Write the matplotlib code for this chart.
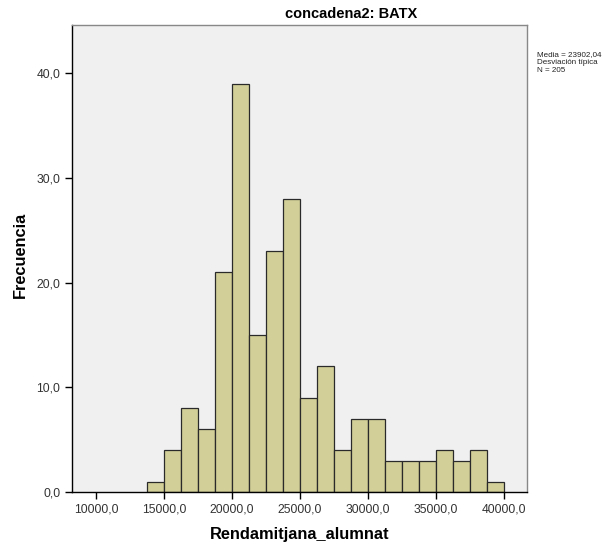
import matplotlib
matplotlib.use("Agg")
import matplotlib.pyplot as plt
import numpy as np

plt.rcParams['font.family'] = ['Liberation Sans', 'DejaVu Sans']

bin_edges = [13750 + 1250 * i for i in range(22)]
counts = [1, 4, 8, 6, 21, 39, 15, 23, 28, 9, 12, 4, 7, 7, 3, 3, 3, 4, 3, 4, 1]
xticks = [10000, 15000, 20000, 25000, 30000, 35000, 40000]
yticks = [0, 10, 20, 30, 40]
title = "concadena2: BATX"
stats_text = "Media = 23902,04\nDesviación típica\nN = 205"

W, H = 603, 545
fig = plt.figure(figsize=(W / 100, H / 100), dpi=100)
ax = fig.add_axes([72 / W, 1 - 492 / H, (527 - 72) / W, (492 - 25) / H])
ax.set_facecolor('#F0F0F0')

lefts = np.array(bin_edges[:-1])
widths = np.diff(bin_edges)
ax.bar(lefts, counts, width=widths, align='edge', color='#D3CF98',
       edgecolor='#2a2a2a', linewidth=0.9)

ax.set_xlim(8235, 41690)
ax.set_ylim(0, 44.6)
ax.set_xticks(xticks)
ax.set_xticklabels([f"{v:.1f}".replace('.', ',') for v in xticks])
ax.set_yticks(yticks)
ax.set_yticklabels([f"{v:.1f}".replace('.', ',') for v in yticks])
ax.tick_params(axis='both', direction='out', length=5, width=1, labelsize=8.7,
               colors='black', labelcolor='#333333')
for s in ['left', 'bottom']:
    ax.spines[s].set_color('black')
    ax.spines[s].set_linewidth(1)
for s in ['top', 'right']:
    ax.spines[s].set_color('#888888')
    ax.spines[s].set_linewidth(1)

ax.set_xlabel("Rendamitjana_alumnat", fontsize=11.8, fontweight='bold', labelpad=8)
fig.text(20 / W, 1 - 255 / H, "Frecuencia", rotation=90, ha='center', va='center',
         fontsize=11.8, fontweight='bold')

fig.text(351 / W, 1 - 14 / H, title, ha='center', va='center', fontsize=10.5,
         fontweight='bold')
fig.text(537 / W, 1 - 51 / H, stats_text, ha='left', va='top', fontsize=5.8,
         linespacing=1.2, color='#222222')

fig.savefig("out.png", dpi=100, facecolor='white')
